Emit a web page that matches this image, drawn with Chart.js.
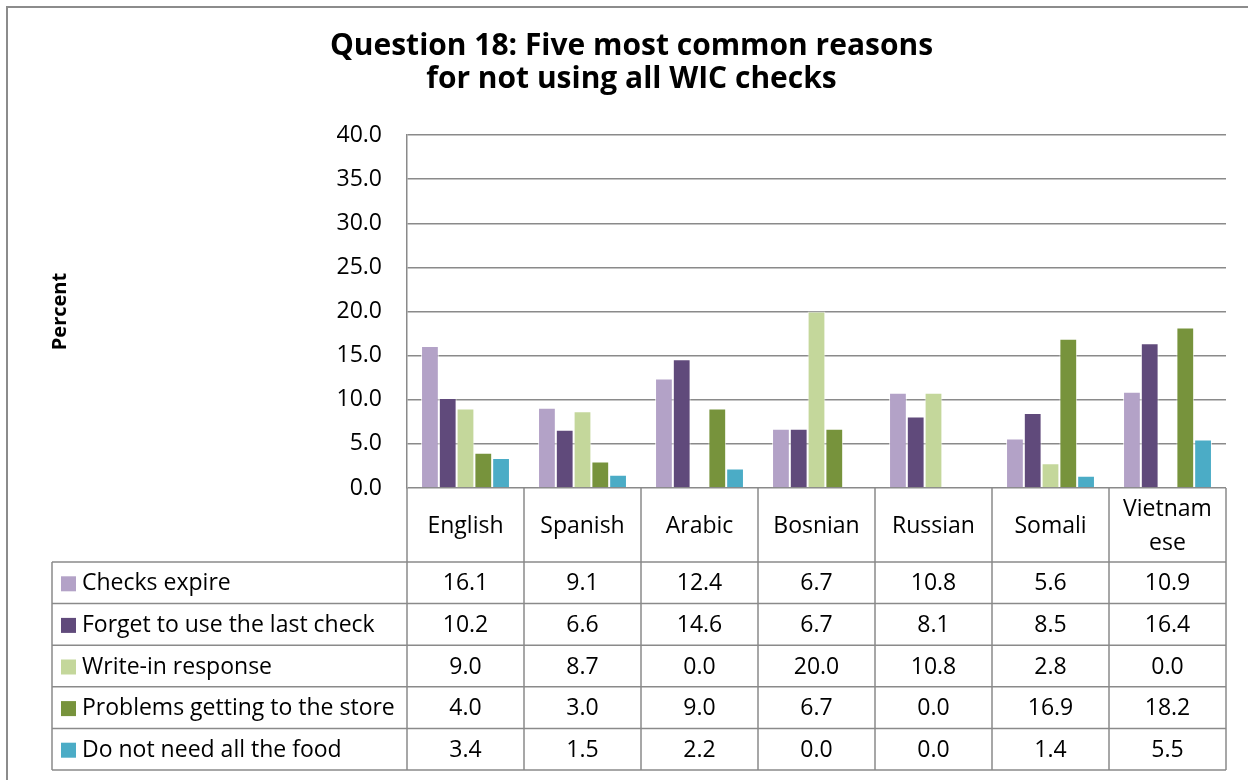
<!DOCTYPE html>
<html>
<head>
<meta charset="utf-8">
<script src="https://cdn.jsdelivr.net/npm/chart.js@4/dist/chart.umd.min.js"></script>
<style>
html,body{margin:0;padding:0;background:#fff;}
#wrap{width:1248px;height:780px;position:relative;}
</style>
</head>
<body>
<div id="wrap"><canvas id="c" width="1248" height="780"></canvas></div>
<script>
const categories = ['English','Spanish','Arabic','Bosnian','Russian','Somali','Vietnamese'];
const headerLabels = [['English'],['Spanish'],['Arabic'],['Bosnian'],['Russian'],['Somali'],['Vietnam','ese']];
const seriesNames = ['Checks expire','Forget to use the last check','Write-in response','Problems getting to the store','Do not need all the food'];
const checksExpire = [16.1, 9.1, 12.4, 6.7, 10.8, 5.6, 10.9];
const forgetLastCheck = [10.2, 6.6, 14.6, 6.7, 8.1, 8.5, 16.4];
const writeIn = [9.0, 8.7, 0.0, 20.0, 10.8, 2.8, 0.0];
const problemsStore = [4.0, 3.0, 9.0, 6.7, 0.0, 16.9, 18.2];
const notNeedFood = [3.4, 1.5, 2.2, 0.0, 0.0, 1.4, 5.5];
const seriesColors = ['#B3A2C7','#604A7B','#C4D79B','#77933C','#4BACC6'];
const titleLines = ['Question 18: Five most common reasons','for not using all WIC checks'];
const yAxisTitle = 'Percent';

const FONT = '"Open Sans", "Noto Sans", sans-serif';
const TITLE_FONT = '"Open Sans", sans-serif';
const TEXT_SIZE = 23;
const GRID = '#8a8a8a';
const allSeries = [checksExpire, forgetLastCheck, writeIn, problemsStore, notNeedFood];

const tablePlugin = {
  id: 'tablePlugin',
  afterDraw(chart) {
    const ctx = chart.ctx;
    const x = chart.scales.x;
    const area = chart.chartArea;
    const n = categories.length;
    const cw = (x.right - x.left) / n;
    const headerBottom = 562;
    const rowH = 41.6;
    const tableLeft = 52;
    ctx.save();
    ctx.strokeStyle = '#8c8c8c';
    ctx.lineWidth = 2;
    ctx.strokeRect(7, 7, 1300, 900);
    // title
    ctx.fillStyle = '#000';
    ctx.font = 'bold 26px ' + TITLE_FONT;
    const w0 = ctx.measureText(titleLines[0]).width;
    const ts = 26 * 603 / w0;
    ctx.font = 'bold ' + ts.toFixed(2) + 'px ' + TITLE_FONT;
    ctx.textAlign = 'center';
    ctx.textBaseline = 'alphabetic';
    ctx.fillText(titleLines[0], 631.5, 55);
    ctx.fillText(titleLines[1], 631.5, 88);
    // y title
    ctx.save();
    ctx.translate(60, (area.top + area.bottom) / 2);
    ctx.rotate(-Math.PI / 2);
    ctx.textBaseline = 'middle';
    ctx.font = 'bold 20px ' + FONT;
    ctx.fillText(yAxisTitle, 0, 0);
    ctx.restore();

    ctx.strokeStyle = GRID;
    ctx.lineWidth = 1.5;
    ctx.beginPath();
    for (let i = 0; i <= n; i++) {
      const xx = x.left + i * cw;
      ctx.moveTo(xx, area.bottom);
      ctx.lineTo(xx, headerBottom + rowH * seriesNames.length);
    }
    for (let r = 0; r <= seriesNames.length; r++) {
      const yy = headerBottom + r * rowH;
      ctx.moveTo(tableLeft, yy);
      ctx.lineTo(x.right, yy);
    }
    ctx.moveTo(tableLeft, headerBottom);
    ctx.lineTo(tableLeft, headerBottom + rowH * seriesNames.length);
    ctx.stroke();

    ctx.fillStyle = '#000';
    ctx.font = TEXT_SIZE + 'px ' + FONT;
    ctx.textAlign = 'center';
    ctx.textBaseline = 'middle';
    for (let i = 0; i < n; i++) {
      const cx = x.getPixelForValue(i);
      const lines = headerLabels[i];
      const midY = (area.bottom + headerBottom) / 2 + 1;
      const lh = 34;
      lines.forEach((ln, k) => {
        ctx.fillText(ln, cx, midY + (k - (lines.length - 1) / 2) * lh);
      });
    }
    for (let r = 0; r < seriesNames.length; r++) {
      const cy = headerBottom + r * rowH + rowH / 2 + 1;
      ctx.fillStyle = seriesColors[r];
      ctx.fillRect(61, cy - 7.5, 15, 15);
      ctx.fillStyle = '#000';
      ctx.textAlign = 'left';
      ctx.fillText(seriesNames[r], 82, cy);
      ctx.textAlign = 'center';
      for (let i = 0; i < n; i++) {
        ctx.fillText(allSeries[r][i].toFixed(1), x.getPixelForValue(i), cy);
      }
    }
    ctx.restore();
  }
};

new Chart(document.getElementById('c'), {
  type: 'bar',
  data: {
    labels: categories,
    datasets: seriesNames.map((name, i) => ({
      label: name,
      data: allSeries[i],
      backgroundColor: seriesColors[i],
      borderColor: 'rgba(255,255,255,0.7)',
      borderWidth: 1,
      categoryPercentage: 0.76,
      barPercentage: 1.0
    }))
  },
  options: {
    responsive: false,
    animation: false,
    devicePixelRatio: 1,
    layout: { padding: { left: 0, top: 135, right: 22, bottom: 292 } },
    plugins: { legend: { display: false }, title: { display: false }, tooltip: { enabled: false } },
    scales: {
      x: { display: false },
      y: {
        min: 0, max: 40,
        border: { display: true, color: GRID, width: 1.5 },
        grid: { color: GRID, lineWidth: 1.5, drawTicks: false },
        ticks: {
          stepSize: 5,
          padding: 25,
          color: '#000',
          font: { family: FONT, size: TEXT_SIZE },
          callback: v => Number(v).toFixed(1)
        },
        afterFit(scale) { scale.width = 407; }
      }
    }
  },
  plugins: [tablePlugin]
});
</script>
</body>
</html>
